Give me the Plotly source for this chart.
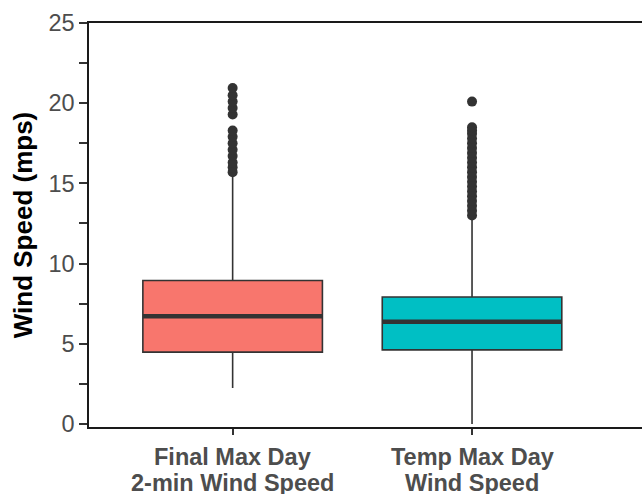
import plotly.graph_objects as go

# ---- data ----
categories = [["Final Max Day", "2-min Wind Speed"], ["Temp Max Day", "Wind Speed"]]
positions = [1, 2]
q1 = [4.48, 4.62]
median = [6.72, 6.37]
q3 = [8.94, 7.92]
lower_whisker = [2.24, 0.0]
upper_whisker = [15.6, 12.75]
fill_colors = ["#F8766D", "#00BFC4"]
outliers_final = [15.7, 16.0, 16.3, 16.7, 17.1, 17.5, 17.9, 18.3,
                  19.3, 19.7, 20.1, 20.5, 20.95]
outliers_temp = [13.0, 13.3, 13.6, 13.9, 14.2, 14.5, 14.8, 15.1, 15.4,
                 15.7, 16.0, 16.3, 16.6, 16.9, 17.2, 17.5, 17.8, 18.1,
                 18.3, 18.5, 20.1]
outliers = [outliers_final, outliers_temp]
y_ticks = [0, 5, 10, 15, 20, 25]
y_minor = [2.5, 7.5, 12.5, 17.5, 22.5]

BOX_W = 0.75
DARK = "#333333"
FONT = "Liberation Sans, Arial, sans-serif"

W, H = 642, 494
M_L, M_R, M_T, M_B = 89, 0, 23, 67
plot_h = H - M_T - M_B

fig = go.Figure()
for i in range(2):
    fig.add_trace(go.Box(
        x=[positions[i]], q1=[q1[i]], median=[median[i]], q3=[q3[i]],
        lowerfence=[lower_whisker[i]], upperfence=[upper_whisker[i]],
        width=BOX_W, fillcolor=fill_colors[i],
        line=dict(color=DARK, width=1.6), boxpoints=False,
        whiskerwidth=0, showlegend=False, hoverinfo="skip",
    ))
    # thick median line (ggplot fatten)
    fig.add_trace(go.Scatter(
        x=[positions[i] - BOX_W / 2, positions[i] + BOX_W / 2],
        y=[median[i], median[i]], mode="lines",
        line=dict(color=DARK, width=4.5), showlegend=False, hoverinfo="skip",
    ))
    fig.add_trace(go.Scatter(
        x=[positions[i]] * len(outliers[i]), y=outliers[i], mode="markers",
        marker=dict(color=DARK, size=10, line=dict(width=0)),
        showlegend=False, hoverinfo="skip",
    ))

# two-line category labels with tight (ggplot-like) line spacing
line_centers_px = [456.5, 482.5]
for i, lines in enumerate(categories):
    for j, txt in enumerate(lines):
        fig.add_annotation(
            x=positions[i], xref="x",
            y=(H - M_B - line_centers_px[j]) / plot_h, yref="paper",
            text=txt, showarrow=False, xanchor="center", yanchor="middle",
            font=dict(family=FONT, size=23.5, color="#4D4D4D", weight="bold"),
        )

fig.update_layout(
    width=W, height=H,
    margin=dict(l=M_L, r=M_R, t=M_T, b=M_B, autoexpand=False),
    plot_bgcolor="white", paper_bgcolor="white",
    font=dict(family=FONT),
)
fig.update_xaxes(
    range=[0.4, 2.71], tickvals=positions, showticklabels=False,
    automargin=False,
    showgrid=False, zeroline=False,
    showline=True, linecolor="#1a1a1a", linewidth=1.5, mirror=True,
    ticks="outside", ticklen=6, tickwidth=1.5, tickcolor=DARK,
)
fig.update_yaxes(
    range=[-0.19, 25], tickvals=y_ticks, automargin=False,
    showgrid=False, zeroline=False,
    showline=True, linecolor="#1a1a1a", linewidth=1.5,
    ticks="outside", ticklen=8, tickwidth=1.5, tickcolor=DARK,
    minor=dict(tickvals=y_minor, ticks="outside", ticklen=8, tickwidth=1.5, tickcolor=DARK),
    tickfont=dict(family=FONT, size=23.5, color="#4D4D4D"),
    title=dict(text="Wind Speed (mps)", standoff=8,
               font=dict(family=FONT, size=26, color="black", weight="bold")),
)

fig.write_html(
    "out.html",
    config={"displayModeBar": False},
    post_script="document.body.style.margin='0';document.body.style.overflow='hidden';",
)
